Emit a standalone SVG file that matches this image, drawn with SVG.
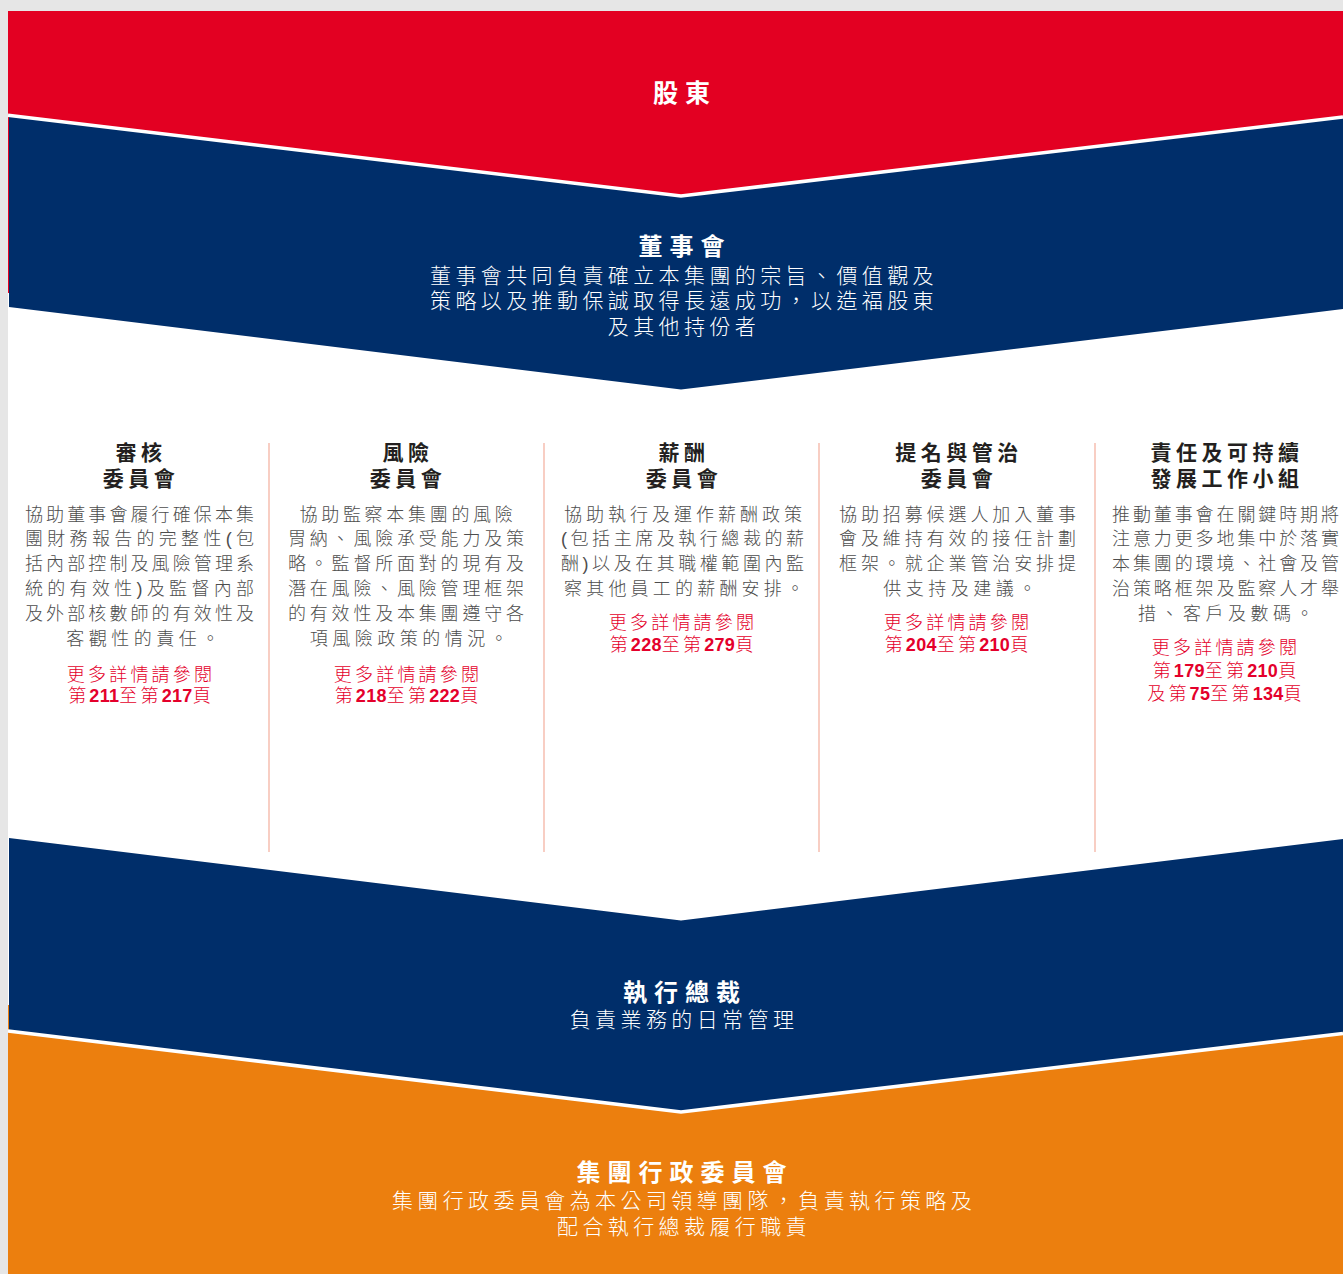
<svg xmlns="http://www.w3.org/2000/svg" width="1343" height="1274" viewBox="0 0 1343 1274">
<style>
  text { font-family: "Liberation Sans", "Noto Sans CJK TC", "Noto Sans CJK SC", sans-serif; }
  .band-title { font-size: 24px; font-weight: 700; fill: #ffffff; letter-spacing: 7px; text-anchor: middle; }
  .band-body { font-size: 21px; font-weight: 300; fill: #ffffff; letter-spacing: 4.4px; text-anchor: middle; }
  .col-title { font-size: 21px; font-weight: 700; fill: #231f20; letter-spacing: 4.5px; text-anchor: middle; }
  .col-body { font-size: 18px; font-weight: 300; fill: #4d4d4d; }
  .j { letter-spacing: 0; text-anchor: start; }
  .c { letter-spacing: 4.5px; text-anchor: middle; }
  .ref { font-size: 18px; font-weight: 300; fill: #e4002b; letter-spacing: 3.2px; text-anchor: middle; }
  .num { font-weight: 700; letter-spacing: 0.3px; }
  .sep { stroke: #f3ad9c; stroke-width: 1.2; fill: none; }
  .gap { stroke: #ffffff; stroke-width: 3.6; fill: none; }
</style>
<rect x="0" y="0" width="1343" height="1274" fill="#e6e6e6"/>
<rect x="8" y="11" width="1335" height="1263" fill="#ffffff"/>

<g id="shareholders">
  <rect x="8" y="11" width="1335" height="282" fill="#e30022"/>
  <text class="band-title" x="685" y="102" style="font-size:25px">股東</text>
</g>

<g id="board">
  <polygon points="9,115.3 681,196 1343,117 1343,309 681,389.5 9,307" fill="#002e6a"/>
  <polyline class="gap" points="8,115.3 681,196 1343,117"/>
  <text class="band-body"><tspan class="band-title" x="685" y="255">董事會</tspan><tspan x="684" y="282.5">董事會共同負責確立本集團的宗旨、價值觀及</tspan><tspan x="684" y="308">策略以及推動保誠取得長遠成功，以造福股東</tspan><tspan x="684" y="333.5">及其他持份者</tspan></text>
</g>

<g id="connectors">
  <line class="sep" x1="269" y1="443" x2="269" y2="852"/>
  <line class="sep" x1="544" y1="443" x2="544" y2="852"/>
  <line class="sep" x1="819" y1="443" x2="819" y2="852"/>
  <line class="sep" x1="1095" y1="443" x2="1095" y2="852"/>
</g>

<g id="audit-committee">
  <text class="col-title"><tspan x="141" y="460">審核</tspan><tspan x="141" y="486">委員會</tspan></text>
  <text class="col-body"><tspan class="j" x="25" y="520.5" textLength="229" lengthAdjust="spacing">協助董事會履行確保本集</tspan><tspan class="j" x="25" y="545.4" textLength="229" lengthAdjust="spacing">團財務報告的完整性(包</tspan><tspan class="j" x="25" y="570.3" textLength="229" lengthAdjust="spacing">括內部控制及風險管理系</tspan><tspan class="j" x="25" y="595.2" textLength="229" lengthAdjust="spacing">統的有效性)及監督內部</tspan><tspan class="j" x="25" y="620.1" textLength="229" lengthAdjust="spacing">及外部核數師的有效性及</tspan><tspan class="c" x="145" y="645">客觀性的責任。</tspan></text>
  <text class="ref"><tspan x="141" y="680.5">更多詳情請參閱</tspan><tspan x="141" y="701.5">第<tspan class="num">211</tspan>至第<tspan class="num">217</tspan>頁</tspan></text>
</g>

<g id="risk-committee">
  <text class="col-title"><tspan x="408" y="460">風險</tspan><tspan x="408" y="486">委員會</tspan></text>
  <text class="col-body"><tspan class="c" x="408" y="520.5" style="letter-spacing:3.7px">協助監察本集團的風險</tspan><tspan class="j" x="288" y="545.4" textLength="236" lengthAdjust="spacing">胃納、風險承受能力及策</tspan><tspan class="j" x="288" y="570.3" textLength="236" lengthAdjust="spacing">略。監督所面對的現有及</tspan><tspan class="j" x="288" y="595.2" textLength="236" lengthAdjust="spacing">潛在風險、風險管理框架</tspan><tspan class="j" x="288" y="620.1" textLength="236" lengthAdjust="spacing">的有效性及本集團遵守各</tspan><tspan class="c" x="411" y="645">項風險政策的情況。</tspan></text>
  <text class="ref"><tspan x="408" y="680.5">更多詳情請參閱</tspan><tspan x="408" y="701.5">第<tspan class="num">218</tspan>至第<tspan class="num">222</tspan>頁</tspan></text>
</g>

<g id="remuneration-committee">
  <text class="col-title"><tspan x="684" y="460">薪酬</tspan><tspan x="684" y="486">委員會</tspan></text>
  <text class="col-body"><tspan class="j" x="564" y="520.5" textLength="238" lengthAdjust="spacing">協助執行及運作薪酬政策</tspan><tspan class="j" x="561" y="545.4" textLength="243" lengthAdjust="spacing">(包括主席及執行總裁的薪</tspan><tspan class="j" x="561" y="570.3" textLength="243" lengthAdjust="spacing">酬)以及在其職權範圍內監</tspan><tspan class="j" x="564" y="595.2" textLength="240" lengthAdjust="spacing">察其他員工的薪酬安排。</tspan></text>
  <text class="ref"><tspan x="683" y="629">更多詳情請參閱</tspan><tspan x="683" y="651">第<tspan class="num">228</tspan>至第<tspan class="num">279</tspan>頁</tspan></text>
</g>

<g id="nomination-committee">
  <text class="col-title"><tspan x="959" y="460">提名與管治</tspan><tspan x="959" y="486">委員會</tspan></text>
  <text class="col-body"><tspan class="j" x="839" y="520.5" textLength="237" lengthAdjust="spacing">協助招募候選人加入董事</tspan><tspan class="j" x="839" y="545.4" textLength="237" lengthAdjust="spacing">會及維持有效的接任計劃</tspan><tspan class="j" x="839" y="570.3" textLength="237" lengthAdjust="spacing">框架。就企業管治安排提</tspan><tspan class="c" x="962" y="595.2">供支持及建議。</tspan></text>
  <text class="ref"><tspan x="958" y="629">更多詳情請參閱</tspan><tspan x="958" y="651">第<tspan class="num">204</tspan>至第<tspan class="num">210</tspan>頁</tspan></text>
</g>

<g id="responsibility-working-group">
  <text class="col-title"><tspan x="1227" y="460">責任及可持續</tspan><tspan x="1227" y="486">發展工作小組</tspan></text>
  <text class="col-body"><tspan class="j" x="1112" y="520.5" textLength="227" lengthAdjust="spacing">推動董事會在關鍵時期將</tspan><tspan class="j" x="1112" y="545.4" textLength="227" lengthAdjust="spacing">注意力更多地集中於落實</tspan><tspan class="j" x="1112" y="570.3" textLength="227" lengthAdjust="spacing">本集團的環境、社會及管</tspan><tspan class="j" x="1112" y="595.2" textLength="227" lengthAdjust="spacing">治策略框架及監察人才舉</tspan><tspan class="c" x="1228" y="620.1">措、客戶及數碼。</tspan></text>
  <text class="ref"><tspan x="1226" y="654">更多詳情請參閱</tspan><tspan x="1226" y="677">第<tspan class="num">179</tspan>至第<tspan class="num">210</tspan>頁</tspan><tspan x="1226" y="700">及第<tspan class="num">75</tspan>至第<tspan class="num">134</tspan>頁</tspan></text>
</g>

<g id="group-executive-committee">
  <rect x="8" y="1005" width="1335" height="269" fill="#ec7f0e"/>
</g>

<g id="group-ceo">
  <polygon points="9,838 681,920.5 1343,839 1343,1033.5 681,1112 9,1031" fill="#002e6a"/>
  <polyline class="gap" points="8,1031 681,1112 1343,1033.5"/>
  <text class="band-body"><tspan class="band-title" x="685" y="1001">執行總裁</tspan><tspan x="684" y="1027">負責業務的日常管理</tspan></text>
</g>

<g id="group-executive-committee-text">
  <text class="band-body"><tspan class="band-title" x="685" y="1181">集團行政委員會</tspan><tspan x="684" y="1208">集團行政委員會為本公司領導團隊，負責執行策略及</tspan><tspan x="684" y="1234">配合執行總裁履行職責</tspan></text>
</g>
</svg>
